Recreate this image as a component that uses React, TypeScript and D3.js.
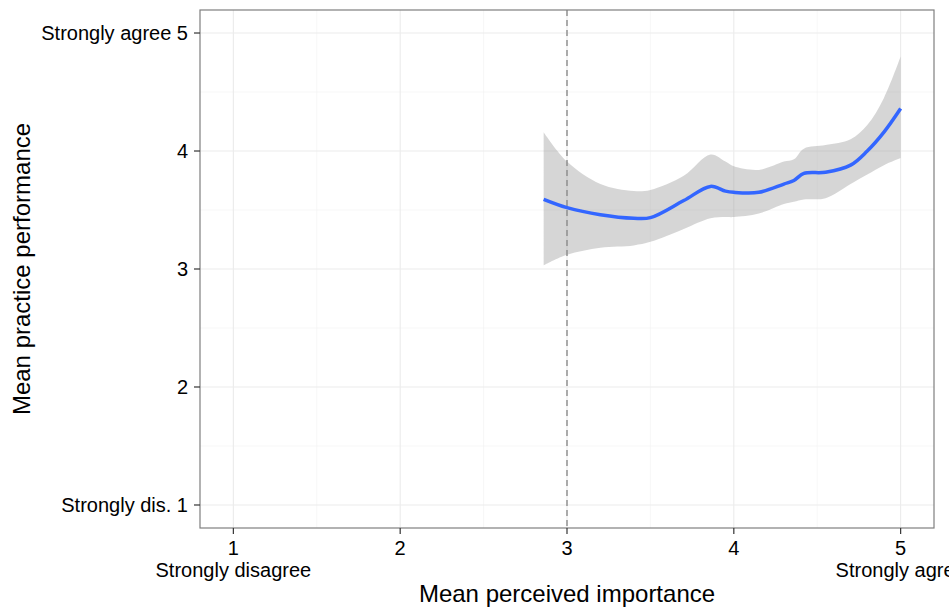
import React from "react";
import { scaleLinear, line, area, curveCatmullRom } from "d3";

// smoothed fit
const xs = [2.86, 3.0, 3.2, 3.4, 3.5, 3.7, 3.86, 3.95, 4.0, 4.15, 4.3, 4.36, 4.42, 4.55, 4.7, 4.8, 4.9, 5.0];
const fit = [3.59, 3.52, 3.46, 3.43, 3.435, 3.58, 3.7, 3.66, 3.65, 3.65, 3.72, 3.75, 3.81, 3.82, 3.88, 4.0, 4.16, 4.36];
const upper = [4.16, 3.91, 3.72, 3.66, 3.67, 3.79, 3.97, 3.91, 3.87, 3.84, 3.91, 3.93, 4.02, 4.05, 4.1, 4.22, 4.45, 4.8];
const lower = [3.03, 3.12, 3.18, 3.2, 3.23, 3.34, 3.43, 3.44, 3.44, 3.47, 3.55, 3.57, 3.59, 3.6, 3.72, 3.8, 3.88, 3.94];

const xTicks = [1, 2, 3, 4, 5];
const xTickLabels = ["1\nStrongly disagree", "2", "3", "4", "5\nStrongly agree"];
const yTicks = [1, 2, 3, 4, 5];
const yTickLabels = ["Strongly dis. 1", "2", "3", "4", "Strongly agree 5"];
const minorTicks = [1.5, 2.5, 3.5, 4.5];
const cutoff = 3;

const W = 949;
const H = 609;
const left = 200, right = 934, top = 10, bottom = 528;
const font = "'Liberation Sans', Arial, Helvetica, sans-serif";

export default function App() {
  const x = scaleLinear().domain([0.8, 5.2]).range([left, right]);
  const y = scaleLinear().domain([0.805, 5.195]).range([bottom, top]);

  const pts = xs.map((v, i) => ({ x: v, fit: fit[i], lo: lower[i], hi: upper[i] }));
  const band = area<any>()
    .x(d => x(d.x))
    .y0(d => y(d.lo))
    .y1(d => y(d.hi))
    .curve(curveCatmullRom);
  const fitLine = line<any>()
    .x(d => x(d.x))
    .y(d => y(d.fit))
    .curve(curveCatmullRom);

  return (
    <svg width={W} height={H} style={{ position: "absolute", left: 0, top: 0, background: "#fff" }} fontFamily={font}>
      <rect x={left} y={top} width={right - left} height={bottom - top} fill="#fff" />
      {/* minor grid */}
      {minorTicks.map(t => (
        <g key={"m" + t}>
          <line x1={x(t)} x2={x(t)} y1={top} y2={bottom} stroke="#f2f2f2" strokeWidth={0.6} />
          <line x1={left} x2={right} y1={y(t)} y2={y(t)} stroke="#f2f2f2" strokeWidth={0.6} />
        </g>
      ))}
      {/* major grid */}
      {xTicks.map(t => (
        <line key={"gx" + t} x1={x(t)} x2={x(t)} y1={top} y2={bottom} stroke="#ebebeb" strokeWidth={1.1} />
      ))}
      {yTicks.map(t => (
        <line key={"gy" + t} x1={left} x2={right} y1={y(t)} y2={y(t)} stroke="#ebebeb" strokeWidth={1.1} />
      ))}
      <path d={band(pts) || ""} fill="#999999" fillOpacity={0.4} />
      <line x1={x(cutoff)} x2={x(cutoff)} y1={top} y2={bottom} stroke="#8c8c8c" strokeWidth={1.4} strokeDasharray="6,4" />
      <path d={fitLine(pts) || ""} fill="none" stroke="#3366FF" strokeWidth={3.5} />
      <rect x={left} y={top} width={right - left} height={bottom - top} fill="none" stroke="#7f7f7f" strokeWidth={1.2} />

      {/* y axis */}
      {yTicks.map((t, i) => (
        <g key={"yt" + t}>
          <line x1={left - 6} x2={left} y1={y(t)} y2={y(t)} stroke="#333" strokeWidth={1.2} />
          <text x={left - 12} y={y(t)} dy="0.36em" textAnchor="end" fontSize={20} fill="#000">
            {yTickLabels[i]}
          </text>
        </g>
      ))}
      {/* x axis */}
      {xTicks.map((t, i) => (
        <g key={"xt" + t}>
          <line x1={x(t)} x2={x(t)} y1={bottom} y2={bottom + 6} stroke="#333" strokeWidth={1.2} />
          <text x={x(t)} y={bottom + 27} textAnchor="middle" fontSize={20} fill="#000">
            {xTickLabels[i].split("\n").map((s, k) => (
              <tspan key={k} x={x(t)} dy={k === 0 ? 0 : "1.1em"}>{s}</tspan>
            ))}
          </text>
        </g>
      ))}
      <text x={(left + right) / 2} y={602} textAnchor="middle" fontSize={24} fill="#000">
        Mean perceived importance
      </text>
      <text transform={`translate(30,${(top + bottom) / 2}) rotate(-90)`} textAnchor="middle" fontSize={24} fill="#000">
        Mean practice performance
      </text>
    </svg>
  );
}
